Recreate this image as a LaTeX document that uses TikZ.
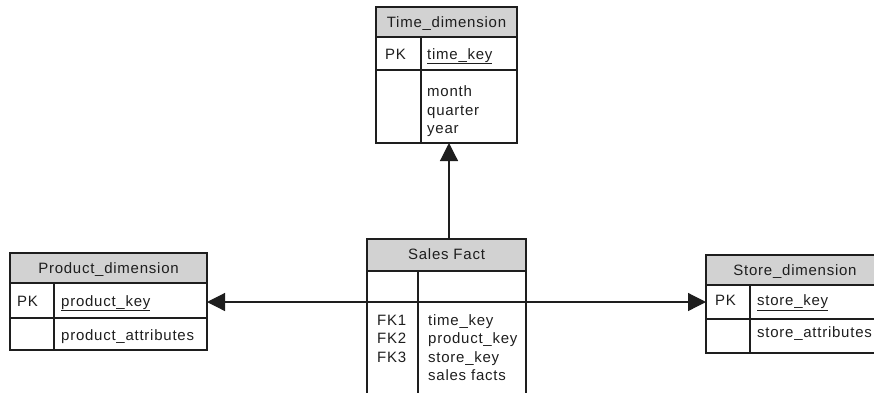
\documentclass[tikz,border=0pt]{standalone}
\usepackage{fontspec}
\newfontfamily\tfont[LetterSpace=5]{Liberation Sans}
\usetikzlibrary{arrows.meta}
\definecolor{hdrgray}{RGB}{210,210,210}
\definecolor{ink}{RGB}{30,30,30}
\begin{document}
\begin{tikzpicture}[x=1pt,y=-1pt,
  cell/.style={draw=ink, line width=1.2pt, inner sep=0pt, outer sep=0pt, anchor=north west},
  hdr/.style={cell, fill=hdrgray},
  txt/.style={font=\tfont\fontsize{15}{18.5}\selectfont, text=ink, inner sep=0pt, anchor=base west},
  ctxt/.style={txt, anchor=base},
  arr/.style={draw=ink, line width=1.2pt, -{Triangle[length=18pt,width=18pt]}}]
\useasboundingbox (0,0) rectangle (874,392);

% ---------- Time_dimension ----------
\node[hdr, minimum width=141pt, minimum height=30pt] (th) at (376,7) {};
\node[cell, minimum width=45pt, minimum height=33pt] (tpk) at (376,37) {};
\node[cell, minimum width=96pt, minimum height=33pt] (tkey) at (421,37) {};
\node[cell, minimum width=45pt, minimum height=73pt] (tl) at (376,70) {};
\node[cell, minimum width=96pt, minimum height=73pt] (tr) at (421,70) {};
\node[ctxt] (tht) at (446.5,27.5) {Time\_dimension};
\node[txt] (tpkt) at (385,59) {PK};
\node[txt] (tkeyt) at (427,59) {\underline{time\_key}};
\node[txt] (tm1) at (427,96.5) {month};
\node[txt] (tm2) at (427,115) {quarter};
\node[txt] (tm3) at (427,133.5) {year};

% ---------- Sales Fact ----------
\node[hdr, minimum width=159pt, minimum height=32pt] (fh) at (367,239) {};
\node[cell, minimum width=51pt, minimum height=31pt] (fl) at (367,271) {};
\node[cell, minimum width=108pt, minimum height=31pt] (fr) at (418,271) {};
\node[cell, minimum width=51pt, minimum height=110pt] (fbl) at (367,302) {};
\node[cell, minimum width=108pt, minimum height=110pt] (fbr) at (418,302) {};
\node[ctxt] (fht) at (446.5,259.5) {Sales Fact};
\node[txt] (fk1) at (377,325) {FK1};
\node[txt] (fk2) at (377,343.5) {FK2};
\node[txt] (fk3) at (377,362) {FK3};
\node[txt] (ff1) at (428,325) {time\_key};
\node[txt] (ff2) at (428,343.5) {product\_key};
\node[txt] (ff3) at (428,362) {store\_key};
\node[txt] (ff4) at (428,380.5) {sales facts};

% ---------- Product_dimension ----------
\node[hdr, minimum width=197pt, minimum height=30pt] (ph) at (10,253) {};
\node[cell, minimum width=44pt, minimum height=35pt] (ppk) at (10,283) {};
\node[cell, minimum width=153pt, minimum height=35pt] (pkey) at (54,283) {};
\node[cell, minimum width=44pt, minimum height=32pt] (pl) at (10,318) {};
\node[cell, minimum width=153pt, minimum height=32pt] (pr) at (54,318) {};
\node[ctxt] (pht) at (108.5,273) {Product\_dimension};
\node[txt] (ppkt) at (17,306) {PK};
\node[txt] (pkeyt) at (61,306) {\underline{product\_key}};
\node[txt] (pat) at (61,340.5) {product\_attributes};

% ---------- Store_dimension ----------
\node[hdr, minimum width=178pt, minimum height=30pt] (sh) at (706,255) {};
\node[cell, minimum width=44pt, minimum height=34pt] (spk) at (706,285) {};
\node[cell, minimum width=134pt, minimum height=34pt] (skey) at (750,285) {};
\node[cell, minimum width=44pt, minimum height=34pt] (sl) at (706,319) {};
\node[cell, minimum width=134pt, minimum height=34pt] (sr) at (750,319) {};
\node[ctxt] (sht) at (795,275) {Store\_dimension};
\node[txt] (spkt) at (715,305.5) {PK};
\node[txt] (skeyt) at (757,305.5) {\underline{store\_key}};
\node[txt] (sat) at (757,337) {store\_attributes};

% ---------- connectors ----------
\coordinate (vtop) at (449,239);
\draw[arr] (vtop) -- (vtop |- tr.south);
\draw[arr] (fl.south west) -- (pkey.east |- fl.south west);
\draw[arr] (fr.south east) -- (spk.west |- fr.south east);
\end{tikzpicture}
\end{document}
